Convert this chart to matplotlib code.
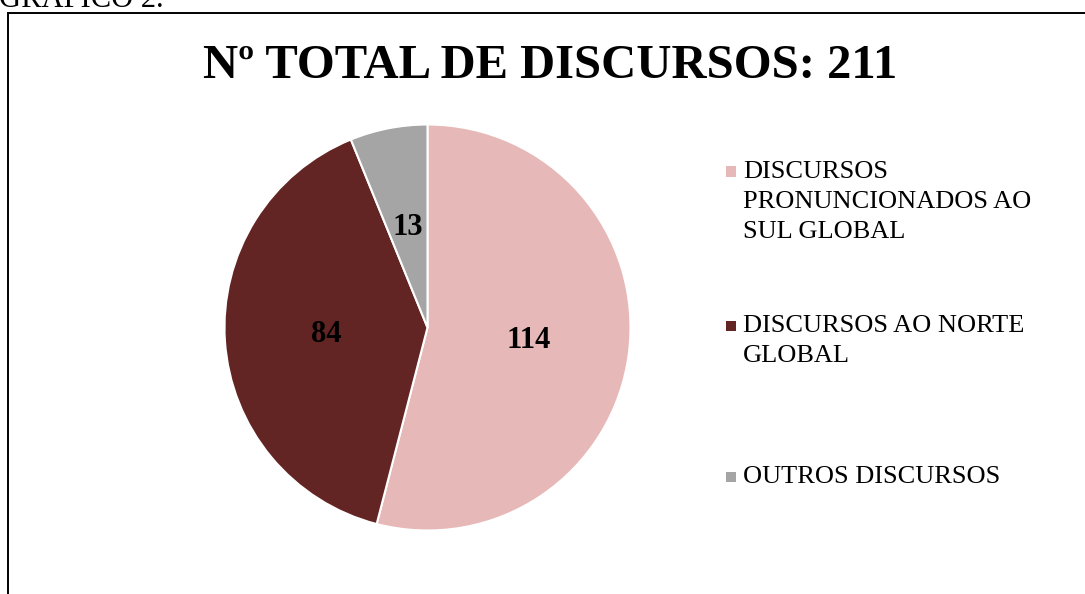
import matplotlib
matplotlib.use("Agg")
import matplotlib.pyplot as plt
from matplotlib.patches import Rectangle

categories = ["DISCURSOS\nPRONUNCIONADOS AO\nSUL GLOBAL",
              "DISCURSOS AO NORTE\nGLOBAL",
              "OUTROS DISCURSOS"]
values = [114, 84, 13]
colors = ["#E6B8B7", "#632523", "#A5A5A5"]
title = "Nº TOTAL DE DISCURSOS: 211"

plt.rcParams['font.family'] = ['Liberation Serif', 'DejaVu Serif']

W, H = 1085, 594
fig = plt.figure(figsize=(W / 100, H / 100), dpi=100)

def fx(px):
    return px / W

def fy(py):
    return 1 - py / H

# caption above the frame (mostly cut off)
fig.text(fx(-1), fy(7), "GRÁFICO 2.", fontsize=22, ha='left', va='baseline')

# chart frame
fig.patches.append(Rectangle((fx(7.5), fy(700)), fx(1200), fy(12.5) - fy(700),
                             transform=fig.transFigure, fill=False,
                             edgecolor='black', linewidth=1.4))

# title
fig.text(fx(550), fy(78), title, fontsize=35, fontweight='bold',
         ha='center', va='baseline')

# pie
cx, cy, r = 427.5, 327.5, 203
ax = fig.add_axes([fx(cx - r), fy(cy + r), fx(2 * r), fy(cy - r) - fy(cy + r)])
total = sum(values)
wedges, texts, autotexts = ax.pie(
    values, colors=colors, startangle=90, counterclock=False, radius=1,
    autopct=lambda p: f"{round(p * total / 100)}", pctdistance=0.5,
    wedgeprops=dict(edgecolor='white', linewidth=1.5),
    textprops=dict(fontsize=22, fontweight='bold', color='black'))
ax.set_xlim(-1, 1)
ax.set_ylim(-1, 1)
ax.set_aspect('equal')
ax.axis('off')

# legend
legend_y = [172, 326, 477]
line_h = 30
for lab, col, y in zip(categories, colors, legend_y):
    fig.patches.append(Rectangle((fx(725.5), fy(y + 5)), fx(10.5), fy(y - 5.5) - fy(y + 5),
                                 transform=fig.transFigure, facecolor=col,
                                 edgecolor='none'))
    for i, line in enumerate(lab.split("\n")):
        fig.text(fx(743), fy(y + i * line_h), line, fontsize=19,
                 ha='left', va='center')

fig.savefig("out.png", dpi=100)
